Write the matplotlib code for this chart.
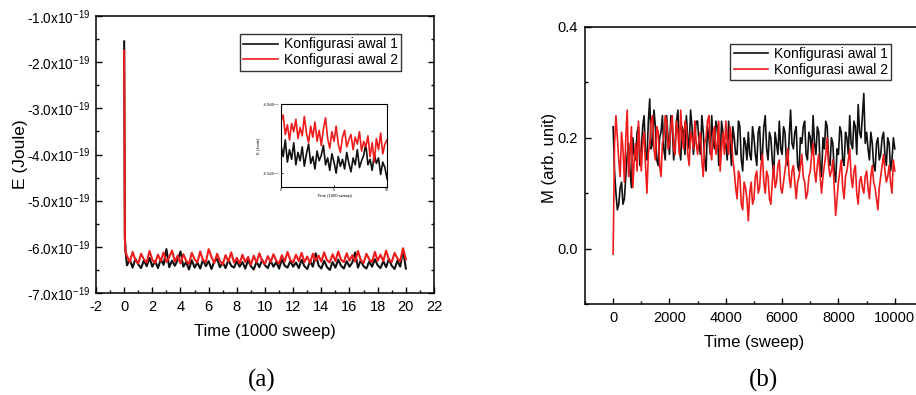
import numpy as np
import matplotlib
matplotlib.use('Agg')
import matplotlib.pyplot as plt
from matplotlib.ticker import MultipleLocator, FuncFormatter

plt.rcParams['font.family'] = ['Liberation Sans', 'DejaVu Sans']
plt.rcParams['axes.unicode_minus'] = False

# ---- data ----
# (a) energy, units of 1e-19 J, time in 1000 sweeps
t_start = [0.0, 0.05, 0.1]
black_start = [-1.55, -5.8, -6.1]
red_start = [-1.75, -5.8, -6.1]
t_e = np.arange(1, 101) * 0.2
black_e = [-6.40, -6.28, -6.45, -6.26, -6.38, -6.46, -6.29, -6.42, -6.24, -6.43,
           -6.31, -6.46, -6.27, -6.39, -6.05, -6.44, -6.30, -6.41, -6.28, -6.10,
           -6.43, -6.33, -6.49, -6.29, -6.45, -6.34, -6.47, -6.28, -6.42, -6.31,
           -6.48, -6.32, -6.26, -6.44, -6.34, -6.46, -6.28, -6.41, -6.45, -6.31,
           -6.43, -6.33, -6.47, -6.29, -6.42, -6.49, -6.32, -6.44, -6.28, -6.40,
           -6.46, -6.30, -6.43, -6.33, -6.47, -6.27, -6.41, -6.45, -6.31, -6.43,
           -6.34, -6.46, -6.28, -6.42, -6.48, -6.31, -6.43, -6.14, -6.40, -6.47,
           -6.30, -6.44, -6.50, -6.33, -6.45, -6.28, -6.41, -6.47, -6.31, -6.43,
           -6.34, -6.12, -6.45, -6.29, -6.42, -6.47, -6.32, -6.43, -6.27, -6.40,
           -6.46, -6.31, -6.44, -6.26, -6.41, -6.48, -6.30, -6.43, -6.06, -6.47]
red_e = [-6.20, -6.33, -6.11, -6.29, -6.36, -6.15, -6.27, -6.34, -6.09, -6.28,
         -6.35, -6.17, -6.31, -6.12, -6.33, -6.22, -6.08, -6.32, -6.19, -6.36,
         -6.16, -6.30, -6.37, -6.13, -6.27, -6.34, -6.10, -6.29, -6.33, -6.05,
         -6.22, -6.35, -6.15, -6.31, -6.38, -6.18, -6.32, -6.12, -6.34, -6.24,
         -6.36, -6.17, -6.33, -6.22, -6.39, -6.19, -6.34, -6.14, -6.31, -6.37,
         -6.20, -6.33, -6.16, -6.30, -6.36, -6.18, -6.32, -6.11, -6.29, -6.34,
         -6.17, -6.31, -6.13, -6.33, -6.21, -6.35, -6.15, -6.30, -6.19, -6.32,
         -6.12, -6.29, -6.34, -6.16, -6.31, -6.10, -6.28, -6.33, -6.14, -6.30,
         -6.18, -6.32, -6.09, -6.29, -6.35, -6.15, -6.27, -6.33, -6.11, -6.30,
         -6.17, -6.31, -6.08, -6.28, -6.33, -6.13, -6.25, -6.31, -6.03, -6.27]

# inset of (a)
t_in = np.arange(51) * 0.2
black_in = [-6.30, -6.38, -6.26, -6.42, -6.33, -6.40, -6.28, -6.44, -6.35, -6.41,
            -6.31, -6.45, -6.36, -6.29, -6.43, -6.38, -6.47, -6.34, -6.41, -6.37,
            -6.30, -6.44, -6.39, -6.48, -6.36, -6.42, -6.50, -6.38, -6.45, -6.40,
            -6.47, -6.35, -6.43, -6.49, -6.39, -6.44, -6.33, -6.46, -6.41, -6.37,
            -6.29, -6.44, -6.40, -6.48, -6.36, -6.43, -6.39, -6.51, -6.42, -6.46, -6.54]
red_in = [-6.12, -6.08, -6.22, -6.15, -6.26, -6.14, -6.20, -6.11, -6.25, -6.17,
          -6.23, -6.09, -6.21, -6.28, -6.16, -6.24, -6.13, -6.27, -6.19, -6.30,
          -6.18, -6.10, -6.25, -6.32, -6.20, -6.27, -6.16, -6.29, -6.35, -6.24,
          -6.19, -6.31, -6.26, -6.22, -6.33, -6.24, -6.29, -6.20, -6.34, -6.27,
          -6.31, -6.23, -6.38, -6.28, -6.42, -6.25, -6.33, -6.21, -6.36, -6.29, -6.26]

# (b) magnetisation, time in sweeps
# values at every 100 sweeps (0..10000) and in between (50..9950)
t_m = np.arange(201) * 50
black_m = [0.22, 0.10, 0.08, 0.12, 0.09, 0.17, 0.14, 0.20, 0.16, 0.22,
           0.18, 0.24, 0.16, 0.27, 0.19, 0.22, 0.15, 0.21, 0.18, 0.24,
           0.17, 0.22, 0.19, 0.25, 0.16, 0.21, 0.24, 0.18, 0.22, 0.20,
           0.23, 0.17, 0.21, 0.14, 0.20, 0.24, 0.18, 0.22, 0.16, 0.21,
           0.19, 0.23, 0.15, 0.20, 0.17, 0.22, 0.14, 0.19, 0.21, 0.16,
           0.20, 0.15, 0.22, 0.17, 0.24, 0.16, 0.20, 0.13, 0.19, 0.23,
           0.17, 0.21, 0.15, 0.25, 0.18, 0.22, 0.14, 0.19, 0.23, 0.16,
           0.20, 0.24, 0.17, 0.21, 0.13, 0.18, 0.22, 0.15, 0.19, 0.12,
           0.17, 0.21, 0.15, 0.20, 0.24, 0.18, 0.22, 0.26, 0.20, 0.28,
           0.21, 0.16, 0.19, 0.14, 0.20, 0.17, 0.21, 0.15, 0.19, 0.16, 0.18]
black_m_mid = [0.14, 0.07, 0.11, 0.08, 0.13, 0.19, 0.11, 0.17, 0.21, 0.15,
               0.22, 0.17, 0.23, 0.18, 0.25, 0.16, 0.20, 0.24, 0.16, 0.20,
               0.24, 0.16, 0.23, 0.18, 0.22, 0.17, 0.20, 0.25, 0.17, 0.23,
               0.19, 0.24, 0.16, 0.22, 0.17, 0.19, 0.23, 0.15, 0.23, 0.18,
               0.16, 0.19, 0.22, 0.17, 0.23, 0.16, 0.20, 0.16, 0.17, 0.22,
               0.17, 0.21, 0.16, 0.22, 0.18, 0.21, 0.16, 0.21, 0.17, 0.18,
               0.22, 0.16, 0.20, 0.19, 0.21, 0.15, 0.20, 0.22, 0.17, 0.21,
               0.17, 0.19, 0.22, 0.15, 0.20, 0.23, 0.16, 0.20, 0.14, 0.18,
               0.22, 0.16, 0.21, 0.17, 0.19, 0.23, 0.17, 0.21, 0.24, 0.19,
               0.18, 0.21, 0.15, 0.19, 0.16, 0.20, 0.17, 0.20, 0.14, 0.20]
red_m = [-0.01, 0.24, 0.16, 0.21, 0.12, 0.25, 0.17, 0.11, 0.19, 0.23,
         0.14, 0.21, 0.10, 0.19, 0.24, 0.16, 0.21, 0.13, 0.20, 0.23,
         0.19, 0.24, 0.17, 0.21, 0.25, 0.18, 0.22, 0.15, 0.20, 0.23,
         0.17, 0.21, 0.13, 0.20, 0.24, 0.16, 0.22, 0.19, 0.14, 0.21,
         0.23, 0.17, 0.20, 0.14, 0.09, 0.13, 0.07, 0.11, 0.05, 0.12,
         0.09, 0.14, 0.11, 0.17, 0.10, 0.13, 0.08, 0.15, 0.12, 0.16,
         0.10, 0.14, 0.18, 0.11, 0.15, 0.09, 0.13, 0.17, 0.12, 0.10,
         0.14, 0.19, 0.12, 0.17, 0.10, 0.15, 0.20, 0.13, 0.16, 0.06,
         0.12, 0.16, 0.09, 0.14, 0.18, 0.11, 0.15, 0.08, 0.13, 0.10,
         0.14, 0.09, 0.15, 0.11, 0.07, 0.13, 0.17, 0.12, 0.15, 0.10, 0.14]
red_m_mid = [0.19, 0.20, 0.13, 0.18, 0.20, 0.13, 0.22, 0.16, 0.14, 0.18,
             0.19, 0.15, 0.17, 0.23, 0.18, 0.22, 0.15, 0.19, 0.24, 0.18,
             0.22, 0.18, 0.23, 0.17, 0.20, 0.23, 0.17, 0.21, 0.18, 0.19,
             0.20, 0.16, 0.19, 0.23, 0.18, 0.21, 0.17, 0.23, 0.18, 0.17,
             0.19, 0.22, 0.16, 0.11, 0.14, 0.08, 0.12, 0.09, 0.10, 0.08,
             0.13, 0.10, 0.15, 0.12, 0.14, 0.09, 0.12, 0.11, 0.15, 0.11,
             0.12, 0.16, 0.13, 0.14, 0.12, 0.12, 0.15, 0.13, 0.09, 0.13,
             0.17, 0.14, 0.15, 0.13, 0.13, 0.17, 0.15, 0.14, 0.11, 0.09,
             0.14, 0.11, 0.13, 0.16, 0.13, 0.14, 0.10, 0.12, 0.11, 0.13,
             0.11, 0.13, 0.12, 0.09, 0.11, 0.15, 0.14, 0.13, 0.12, 0.16]

labels = ['Konfigurasi awal 1', 'Konfigurasi awal 2']
c_black = '#111111'
c_red = '#ee1c1c'


def interleave(a, b):
    out = np.empty(len(a) + len(b))
    out[0::2] = a
    out[1::2] = b
    return out


fig = plt.figure(figsize=(9.16, 3.95), dpi=100)


def style(ax, right=True):
    for s in ax.spines.values():
        s.set_linewidth(1.1)
    ax.tick_params(which='both', direction='in', top=False, right=right,
                   labelsize=10.5, pad=5)
    ax.tick_params(which='major', length=4, width=1)
    ax.tick_params(which='minor', length=2.5, width=1)


def sci(v, pos):
    return '%.1fx10$^{\\mathregular{-19}}$' % v


def add_legend(ax, anchor):
    leg = ax.legend(loc='upper left', bbox_to_anchor=anchor,
                    bbox_transform=fig.transFigure, fontsize=10, frameon=True,
                    fancybox=False, borderaxespad=0, handlelength=2.5,
                    borderpad=0.25, labelspacing=0.12, handletextpad=0.4)
    leg.get_frame().set_edgecolor('black')
    leg.get_frame().set_linewidth(1.0)
    for ln in leg.get_lines():
        ln.set_linewidth(1.2)


# ---- (a) ----
ax1 = fig.add_axes([0.1048, 0.2582, 0.369, 0.7013])
ax1.plot(np.concatenate([t_start, t_e]), np.concatenate([black_start, black_e]),
         color=c_black, lw=1.5, label=labels[0])
ax1.plot(np.concatenate([t_start, t_e]), np.concatenate([red_start, red_e]),
         color=c_red, lw=1.5, label=labels[1])
ax1.set_xlim(-2, 22)
ax1.set_ylim(-7.0, -1.0)
ax1.xaxis.set_major_locator(MultipleLocator(2))
ax1.xaxis.set_minor_locator(MultipleLocator(1))
ax1.yaxis.set_major_locator(MultipleLocator(1))
ax1.yaxis.set_minor_locator(MultipleLocator(0.5))
ax1.yaxis.set_major_formatter(FuncFormatter(sci))
style(ax1)
ax1.tick_params(axis='y', labelsize=9.8, pad=4)
ax1.set_xlabel('Time (1000 sweep)', fontsize=12, labelpad=7)
fig.text(0.022, 0.61, 'E (Joule)', rotation=90, fontsize=12.5,
         ha='center', va='center')
add_legend(ax1, (0.262, 0.914))

# inset
axi = fig.add_axes([0.3068, 0.5266, 0.1157, 0.2101])
axi.plot(t_in, black_in, color=c_black, lw=1.2)
axi.plot(t_in, red_in, color=c_red, lw=1.2)
axi.set_xlim(0, 10)
axi.set_ylim(-6.6, -6.0)
axi.xaxis.set_major_locator(MultipleLocator(5))
axi.yaxis.set_major_locator(MultipleLocator(0.5))
axi.yaxis.set_major_formatter(FuncFormatter(sci))
axi.tick_params(direction='in', right=True, labelsize=2.5, length=1.5, width=0.6, pad=1)
for s in axi.spines.values():
    s.set_linewidth(0.8)
axi.set_xlabel('Time (1000 sweep)', fontsize=3, labelpad=1)
axi.set_ylabel('E (Joule)', fontsize=3, labelpad=1)

# ---- (b) ----
ax2 = fig.add_axes([0.6386, 0.2304, 0.369, 0.7013])
ax2.plot(t_m, interleave(black_m, black_m_mid), color=c_black, lw=1.2, label=labels[0])
ax2.plot(t_m, interleave(red_m, red_m_mid), color=c_red, lw=1.2, label=labels[1])
ax2.set_xlim(-1000, 11000)
ax2.set_ylim(-0.1, 0.4)
ax2.xaxis.set_major_locator(MultipleLocator(2000))
ax2.xaxis.set_minor_locator(MultipleLocator(1000))
ax2.yaxis.set_major_locator(MultipleLocator(0.2))
ax2.yaxis.set_minor_locator(MultipleLocator(0.1))
ax2.yaxis.set_major_formatter(FuncFormatter(lambda v, p: '%.1f' % v))
style(ax2, right=False)
ax2.set_xlabel('Time (sweep)', fontsize=12, labelpad=7)
fig.text(0.6, 0.6, 'M (arb. unit)', rotation=90, fontsize=12,
         ha='center', va='center')
add_legend(ax2, (0.797, 0.889))

# panel captions
fig.text(262 / 916, 1 - 380 / 395, '(a)', fontsize=18, family='Liberation Serif',
         ha='center', va='center')
fig.text(763 / 916, 1 - 380 / 395, '(b)', fontsize=18, family='Liberation Serif',
         ha='center', va='center')

fig.savefig('out.png', dpi=100)
